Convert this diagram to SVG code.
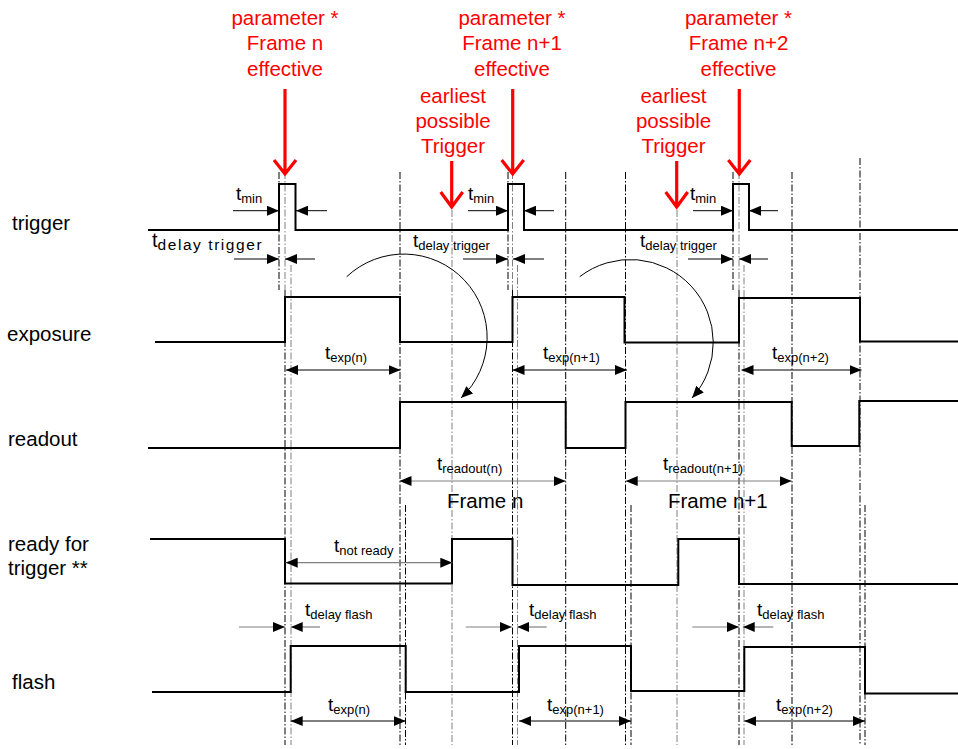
<svg xmlns="http://www.w3.org/2000/svg" width="958" height="749" viewBox="0 0 958 749">
<style>
.bg{fill:#ffffff}
.sig{fill:none;stroke:#000;stroke-width:2}
.dk{fill:none;stroke:#000;stroke-width:1;stroke-dasharray:7 2 1.5 2}
.gr{fill:none;stroke:#808080;stroke-width:1;stroke-dasharray:7 2 1.5 2}
.dim{fill:none;stroke:#000;stroke-width:1}
.dimg{fill:none;stroke:#808080;stroke-width:1.2}
.red{fill:none;stroke:#ff0000;stroke-width:3.2}
.lbl{font-family:"Liberation Sans",Arial,sans-serif;font-size:20.5px;fill:#000}
.rt{font-family:"Liberation Sans",Arial,sans-serif;font-size:20.5px;fill:#ff0000;text-anchor:middle}
.t{font-family:"Liberation Sans",Arial,sans-serif;font-size:19px;fill:#000}
.s{font-size:13px}
</style>
<defs>
<marker id="ah" markerWidth="12" markerHeight="10" refX="12" refY="5" orient="auto" markerUnits="userSpaceOnUse">
<path d="M0,0 L12,5 L0,10 Z" fill="#000"/>
</marker>
</defs>
<rect class="bg" x="0" y="0" width="958" height="749"/>

<g id="labels">
<text class="lbl" x="12" y="230">trigger</text>
<text class="lbl" x="7" y="341">exposure</text>
<text class="lbl" x="8" y="446">readout</text>
<text class="lbl" x="8" y="551">ready for</text>
<text class="lbl" x="8" y="575">trigger **</text>
<text class="lbl" x="12" y="689">flash</text>
</g>

<g id="guides">
<line class="dk" x1="279" y1="172" x2="279" y2="290"/>
<line class="gr" x1="285" y1="172" x2="285" y2="290"/>
<line class="dk" x1="285" y1="290" x2="285" y2="745"/>
<line class="gr" x1="291" y1="265" x2="291" y2="745"/>
<line class="dk" x1="400" y1="172" x2="400" y2="745"/>
<line class="dk" x1="405.5" y1="505" x2="405.5" y2="745"/>
<line class="gr" x1="452" y1="210" x2="452" y2="745"/>
<line class="dk" x1="508" y1="172" x2="508" y2="290"/>
<line class="gr" x1="512.5" y1="172" x2="512.5" y2="290"/>
<line class="dk" x1="512.5" y1="290" x2="512.5" y2="745"/>
<line class="gr" x1="517.5" y1="265" x2="517.5" y2="745"/>
<line class="dk" x1="565.7" y1="172" x2="565.7" y2="745"/>
<line class="dk" x1="625.5" y1="172" x2="625.5" y2="745"/>
<line class="dk" x1="631" y1="505" x2="631" y2="745"/>
<line class="gr" x1="677" y1="210" x2="677" y2="745"/>
<line class="dk" x1="733" y1="172" x2="733" y2="290"/>
<line class="gr" x1="739" y1="172" x2="739" y2="290"/>
<line class="dk" x1="739" y1="290" x2="739" y2="745"/>
<line class="gr" x1="744" y1="265" x2="744" y2="745"/>
<line class="dk" x1="792" y1="172" x2="792" y2="745"/>
<line class="dk" x1="860" y1="158" x2="860" y2="745"/>
<line class="dk" x1="865" y1="505" x2="865" y2="745"/>
</g>

<g id="signals">
<path id="sig-trigger" class="sig" d="M148,230 H279 V184 H295.5 V230 H508 V184 H524 V230 H733 V184 H749 V230 H958"/>
<path id="sig-exposure" class="sig" d="M155,342 H285 V297 H400 V342 H512.5 V297 H624.5 V342.5 H739 V298 H860 V341.5 H958"/>
<path id="sig-readout" class="sig" d="M148,448 H400 V402 H565.7 V448 H625.5 V402 H791.7 V446 H859.3 V401 H958"/>
<path id="sig-ready" class="sig" d="M150,539 H285 V583.5 H452 V539 H512.5 V585 H678.3 V539 H739 V584 H958"/>
<path id="sig-flash" class="sig" d="M152,692 H290.7 V646 H405.7 V692 H519 V646 H631 V691 H744.3 V647 H865 V693.5 H958"/>
</g>

<g id="connectors">
<line class="dim" x1="233" y1="210.7" x2="279" y2="210.7" marker-end="url(#ah)"/>
<line class="dim" x1="327" y1="210.7" x2="296" y2="210.7" marker-end="url(#ah)"/>
<line class="dim" x1="468" y1="210.7" x2="508" y2="210.7" marker-end="url(#ah)"/>
<line class="dim" x1="554" y1="210.7" x2="524" y2="210.7" marker-end="url(#ah)"/>
<line class="dim" x1="693" y1="210.7" x2="733" y2="210.7" marker-end="url(#ah)"/>
<line class="dim" x1="778" y1="210.7" x2="749" y2="210.7" marker-end="url(#ah)"/>
<line class="dim" x1="234" y1="259" x2="279" y2="259" marker-end="url(#ah)"/>
<line class="dim" x1="315" y1="259" x2="285" y2="259" marker-end="url(#ah)"/>
<line class="dim" x1="463" y1="259" x2="508" y2="259" marker-end="url(#ah)"/>
<line class="dim" x1="544" y1="259" x2="513" y2="259" marker-end="url(#ah)"/>
<line class="dim" x1="688" y1="259" x2="733" y2="259" marker-end="url(#ah)"/>
<line class="dim" x1="768" y1="259" x2="739" y2="259" marker-end="url(#ah)"/>
<line class="dim" x1="343" y1="370" x2="400.5" y2="370" marker-end="url(#ah)"/>
<line class="dim" x1="343" y1="370" x2="286" y2="370" marker-end="url(#ah)"/>
<line class="dim" x1="570" y1="370" x2="627" y2="370" marker-end="url(#ah)"/>
<line class="dim" x1="570" y1="370" x2="512.5" y2="370" marker-end="url(#ah)"/>
<line class="dim" x1="800" y1="370" x2="861.5" y2="370" marker-end="url(#ah)"/>
<line class="dim" x1="800" y1="370" x2="741.5" y2="370" marker-end="url(#ah)"/>
<line class="dimg" x1="482" y1="481" x2="565.7" y2="481" marker-end="url(#ah)"/>
<line class="dimg" x1="482" y1="481" x2="399.5" y2="481" marker-end="url(#ah)"/>
<line class="dimg" x1="708" y1="481" x2="791.7" y2="481" marker-end="url(#ah)"/>
<line class="dimg" x1="708" y1="481" x2="625.7" y2="481" marker-end="url(#ah)"/>
<line class="dimg" x1="370" y1="562.7" x2="452.3" y2="562.7" marker-end="url(#ah)"/>
<line class="dimg" x1="370" y1="562.7" x2="285.7" y2="562.7" marker-end="url(#ah)"/>
<line class="dimg" x1="239" y1="627" x2="285" y2="627" marker-end="url(#ah)"/>
<line class="dimg" x1="320" y1="627" x2="290.7" y2="627" marker-end="url(#ah)"/>
<line class="dimg" x1="465.7" y1="627" x2="511.7" y2="627" marker-end="url(#ah)"/>
<line class="dimg" x1="546.7" y1="627" x2="517.3" y2="627" marker-end="url(#ah)"/>
<line class="dimg" x1="692.3" y1="627" x2="739" y2="627" marker-end="url(#ah)"/>
<line class="dimg" x1="773.3" y1="627" x2="742.7" y2="627" marker-end="url(#ah)"/>
<line class="dim" x1="348" y1="721" x2="405.7" y2="721" marker-end="url(#ah)"/>
<line class="dim" x1="348" y1="721" x2="290.7" y2="721" marker-end="url(#ah)"/>
<line class="dim" x1="575" y1="721" x2="631" y2="721" marker-end="url(#ah)"/>
<line class="dim" x1="575" y1="721" x2="519" y2="721" marker-end="url(#ah)"/>
<line class="dim" x1="805" y1="721" x2="865" y2="721" marker-end="url(#ah)"/>
<line class="dim" x1="805" y1="721" x2="744.3" y2="721" marker-end="url(#ah)"/>
<path class="dim" d="M346.7,276.7 A83,83 0 0 1 461,398" marker-end="url(#ah)"/>
<path class="dim" d="M579.7,276.7 A83,83 0 0 1 692,398" marker-end="url(#ah)"/>
<path class="red" d="M285,89 V174 M274,160 L285,174 L296,160"/>
<path class="red" d="M512.7,89 V174 M501.7,160 L512.7,174 L523.7,160"/>
<path class="red" d="M739.3,89 V174 M728.3,160 L739.3,174 L750.3,160"/>
<path class="red" d="M451.7,161 V207 M440.7,192 L451.7,207 L462.7,192"/>
<path class="red" d="M676.7,161 V207 M665.7,192 L676.7,207 L687.7,192"/>
</g>

<g id="red-notes">
<text class="rt" x="285" y="25">parameter *</text>
<text class="rt" x="285" y="50">Frame n</text>
<text class="rt" x="285" y="76">effective</text>
<text class="rt" x="512" y="25">parameter *</text>
<text class="rt" x="512" y="50">Frame n+1</text>
<text class="rt" x="512" y="76">effective</text>
<text class="rt" x="738.5" y="25">parameter *</text>
<text class="rt" x="738.5" y="50">Frame n+2</text>
<text class="rt" x="738.5" y="76">effective</text>
<text class="rt" x="453" y="103">earliest</text>
<text class="rt" x="453" y="128">possible</text>
<text class="rt" x="453" y="153">Trigger</text>
<text class="rt" x="673.5" y="103">earliest</text>
<text class="rt" x="673.5" y="128">possible</text>
<text class="rt" x="673.5" y="153">Trigger</text>
</g>

<g id="dim-labels">
<text class="t" x="236" y="200">t<tspan class="s" dy="3">min</tspan></text>
<text class="t" x="468" y="200">t<tspan class="s" dy="3">min</tspan></text>
<text class="t" x="690" y="200">t<tspan class="s" dy="3">min</tspan></text>
<text class="t" x="152" y="247" style="font-size:20px">t<tspan class="s" dy="3" style="font-size:15.5px" textLength="104">delay trigger</tspan></text>
<text class="t" x="413" y="247">t<tspan class="s" dy="3">delay trigger</tspan></text>
<text class="t" x="640" y="247">t<tspan class="s" dy="3">delay trigger</tspan></text>
<text class="t" x="325" y="359">t<tspan class="s" dy="3">exp(n)</tspan></text>
<text class="t" x="543" y="359">t<tspan class="s" dy="3">exp(n+1)</tspan></text>
<text class="t" x="772" y="359">t<tspan class="s" dy="3">exp(n+2)</tspan></text>
<text class="t" x="437" y="470">t<tspan class="s" dy="3">readout(n)</tspan></text>
<text class="t" x="663" y="470">t<tspan class="s" dy="3">readout(n+1)</tspan></text>
<text class="lbl" x="447" y="508">Frame n</text>
<text class="lbl" x="668" y="508">Frame n+1</text>
<text class="t" x="334" y="552">t<tspan class="s" dy="3">not ready</tspan></text>
<text class="t" x="305" y="616">t<tspan class="s" dy="3">delay flash</tspan></text>
<text class="t" x="529" y="616">t<tspan class="s" dy="3">delay flash</tspan></text>
<text class="t" x="757" y="616">t<tspan class="s" dy="3">delay flash</tspan></text>
<text class="t" x="328" y="711">t<tspan class="s" dy="3">exp(n)</tspan></text>
<text class="t" x="547" y="711">t<tspan class="s" dy="3">exp(n+1)</tspan></text>
<text class="t" x="776" y="711">t<tspan class="s" dy="3">exp(n+2)</tspan></text>
</g>
</svg>
